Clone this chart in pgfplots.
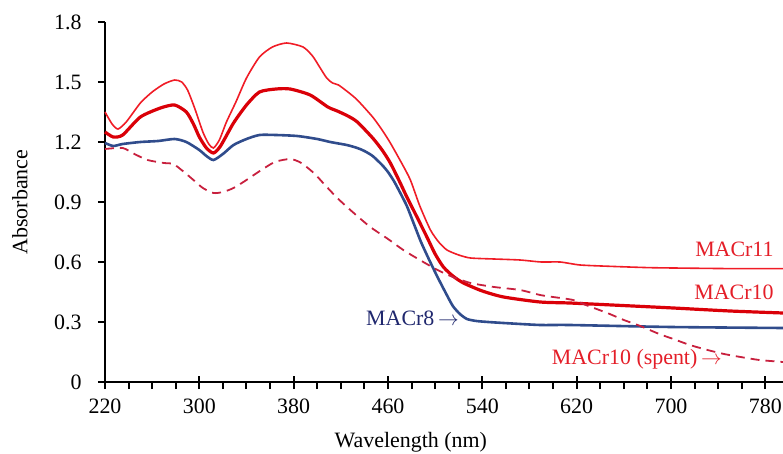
\documentclass[border=0pt]{standalone}
\usepackage{fontspec}
\setmainfont{Liberation Serif}
\usepackage{pgfplots}
\pgfplotsset{compat=1.18}
\definecolor{cA}{RGB}{240,28,38}
\definecolor{cB}{RGB}{218,0,8}
\definecolor{cC}{RGB}{48,76,140}
\definecolor{cD}{RGB}{200,32,62}
\definecolor{cLab}{RGB}{228,30,40}
\definecolor{cNavy}{RGB}{32,40,110}
\newcommand{\lf}{\fontsize{22}{26}\selectfont}
\newcommand{\arr}{\,$\rightarrow$}
\begin{document}
\begin{tikzpicture}
\begin{axis}[name=ax,
  scale only axis, width=678bp, height=360bp,
  xmin=220, xmax=795, ymin=0, ymax=1.8,
  axis x line=bottom, axis y line=left,
  axis line style={-, line width=2.2bp, black},
  xtick=\empty,
  ytick={0,0.3,0.6,0.9,1.2,1.5,1.8},
  yticklabels={0,0.3,0.6,0.9,1.2,1.5,1.8},
  tick align=outside, major tick length=7bp,
  tick style={line width=2bp, black},
  yticklabel style={font=\lf, xshift=-13bp},
  ylabel={Absorbance}, ylabel style={font=\lf, at={(axis description cs:-0.1254,0.5)}, anchor=center},
  xlabel={Wavelength (nm)}, xlabel style={font=\lf, at={(axis description cs:0.451,-0.183)}, anchor=base},
  clip=false,
]
% MACr11
\addplot[cA, line width=1.6bp, smooth, tension=0.4] coordinates {
(220,1.35)(226,1.29)(231,1.265)(238,1.30)(250,1.395)(260,1.45)(270,1.49)(279,1.51)(285,1.50)(290,1.46)
(296,1.37)(303,1.25)(308,1.19)(312,1.17)(317,1.21)(323,1.30)(331,1.40)(340,1.52)(351,1.625)(362,1.675)
(374,1.695)(388,1.675)(396,1.63)(402,1.575)(408,1.52)(413,1.495)(418,1.485)(426,1.45)(434,1.41)(447,1.325)
(455,1.26)(462,1.195)(472,1.09)(479,1.01)(487,0.88)(496,0.76)(503,0.70)(510,0.66)(520,0.635)(530,0.62)
(550,0.615)(572,0.61)(590,0.60)(606,0.60)(623,0.585)(650,0.578)(680,0.572)(702,0.57)(750,0.567)(795,0.567)};
% MACr10
\addplot[cB, line width=3.2bp, smooth, tension=0.4] coordinates {
(220,1.25)(227,1.225)(235,1.235)(250,1.325)(267,1.37)(279,1.385)(289,1.35)(295,1.29)(300,1.225)(306,1.17)
(312,1.145)(318,1.18)(329,1.295)(340,1.385)(351,1.45)(365,1.465)(377,1.465)(394,1.435)(409,1.375)(417,1.355)
(426,1.33)(434,1.30)(447,1.22)(455,1.16)(462,1.095)(470,1.00)(476,0.925)(485,0.82)(493,0.725)(500,0.64)
(507,0.575)(515,0.53)(524,0.495)(540,0.455)(558,0.425)(589,0.40)(614,0.395)(650,0.385)(702,0.37)(750,0.355)(795,0.345)};
% MACr8
\addplot[cC, line width=2.6bp, smooth, tension=0.4] coordinates {
(220,1.195)(227,1.18)(235,1.19)(250,1.20)(265,1.205)(279,1.215)(289,1.20)(300,1.16)(306,1.13)(312,1.11)
(320,1.14)(329,1.185)(340,1.215)(351,1.235)(365,1.235)(383,1.23)(400,1.215)(411,1.20)(425,1.185)(434,1.17)
(440,1.155)(447,1.13)(455,1.085)(460,1.05)(465,1.005)(470,0.95)(476,0.88)(482,0.79)(488,0.70)(495,0.61)(502,0.525)
(509,0.445)(515,0.38)(521,0.34)(527,0.315)(535,0.305)(545,0.30)(558,0.295)(589,0.285)(614,0.285)(700,0.275)(795,0.27)};
% MACr10 (spent)
\addplot[cD, line width=1.8bp, dash pattern=on 9bp off 6bp, smooth, tension=0.4] coordinates {
(220,1.165)(235,1.17)(245,1.14)(256,1.11)(270,1.095)(278,1.09)(287,1.05)(295,1.01)(303,0.97)(312,0.945)
(320,0.95)(329,0.97)(340,1.01)(350,1.05)(364,1.10)(377,1.115)(385,1.10)(391,1.075)(398,1.04)(405,0.995)
(417,0.92)(430,0.85)(445,0.775)(460,0.715)(473,0.66)(487,0.61)(502,0.56)(515,0.525)(530,0.495)(550,0.475)
(572,0.46)(589,0.435)(600,0.425)(617,0.41)(630,0.38)(646,0.345)(660,0.31)(674,0.28)(690,0.24)(702,0.215)
(716,0.185)(731,0.16)(745,0.14)(759,0.125)(775,0.11)(795,0.10)};
\node[anchor=east, text=cLab, font=\lf] at (axis cs:790,0.665) {MACr11};
\node[anchor=east, text=cLab, font=\lf] at (axis cs:790,0.45) {MACr10};
\node[anchor=east, text=cLab, font=\lf] at (axis cs:746,0.115) {MACr10 (spent)\arr};
\node[anchor=east, text=cNavy, font=\lf] at (axis cs:523,0.32) {MACr8\arr};
\end{axis}
\begin{axis}[
  scale only axis, width=678bp, height=360bp,
  xmin=220, xmax=795, ymin=0, ymax=1.8,
  axis x line*=bottom, axis y line=none,
  axis line style={draw=none},
  xtick={220,300,380,460,540,620,700,780},
  minor x tick num=3,
  tick align=outside, major tick length=13bp, minor tick length=7bp,
  tick style={line width=2bp, black},
  every major x tick/.append style={yshift=6bp},
  xticklabel style={font=\lf},
  /pgf/number format/assume math mode=true,
]
\end{axis}
\pgfresetboundingbox
\path[use as bounding box] ([shift={(-105bp,-72bp)}]ax.south west) rectangle ([shift={(678bp,382bp)}]ax.south west);
\end{tikzpicture}
\end{document}
